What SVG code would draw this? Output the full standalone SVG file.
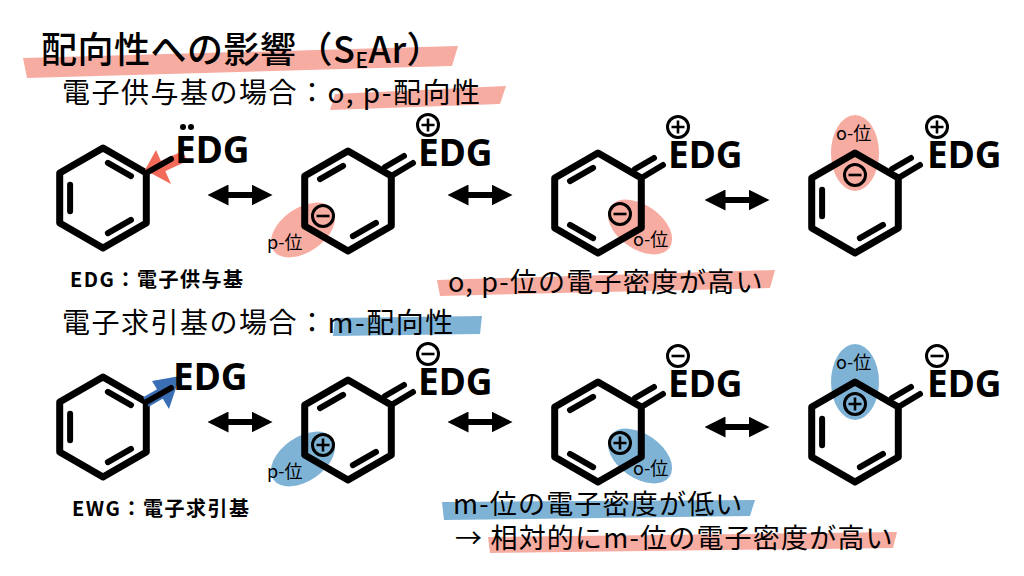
<svg xmlns="http://www.w3.org/2000/svg" width="1024" height="576" viewBox="0 0 1024 576">
<style>
.r{fill:none;stroke:#000;stroke-width:7;stroke-linejoin:round;stroke-linecap:round}
.d{stroke:#000;stroke-width:6;stroke-linecap:round}
.g{font-family:"Noto Sans","Open Sans",sans-serif;font-weight:700;font-size:37px;fill:#000}
.t{font-family:"Noto Sans CJK JP","Noto Sans",sans-serif;fill:#000}
.s{font-family:"Noto Sans CJK JP","Noto Sans",sans-serif;font-size:18px;fill:#000}
.ch{fill:none;stroke:#000;stroke-width:3}
.pk{fill:#f7aca2}
.bl{fill:#7fb3d5}
.ar{stroke:#000;stroke-width:6}
</style>
<defs>
<marker id="ah" viewBox="0 0 10 10" refX="5" refY="5" markerWidth="3.5" markerHeight="3.5" orient="auto-start-reverse"><path d="M0,0L10,5L0,10Z" fill="#000"/></marker>
<polygon id="hex" class="r" points="0,-50 43.3,-25 43.3,25 0,50 -43.3,25 -43.3,-25"/>
<g id="exo"><line class="d" x1="43.3" y1="-25" x2="65" y2="-38"/><line class="d" x1="37" y1="-34" x2="56" y2="-45"/></g>
<g id="plus"><circle class="ch" r="10.5"/><path d="M-6.5,0H6.5M0,-6.5V6.5" stroke="#000" stroke-width="2.6"/></g>
<g id="minus"><circle class="ch" r="10.5"/><path d="M-6.5,0H6.5" stroke="#000" stroke-width="2.6"/></g>
</defs>

<!-- headings -->
<polygon class="pk" points="23,58 458,46 452,66 27,78"/>
<text class="t" x="41" y="63" font-size="36" font-weight="500" letter-spacing="0.5">配向性への影響（S<tspan font-size="21" dy="5">E</tspan><tspan dy="-5">Ar）</tspan></text>
<polygon class="pk" points="335,94 506,86 500,104 330,110"/>
<text class="t" x="62" y="103" font-size="28" letter-spacing="1.5">電子供与基の場合：o, p-配向性</text>
<text class="t" x="70" y="287" font-size="20" font-weight="700" letter-spacing="1.5">EDG：電子供与基</text>
<polygon class="pk" points="437,280 775,270 770,288 440,296"/>
<text class="t" x="448" y="292" font-size="27" letter-spacing="1.2">o, p-位の電子密度が高い</text>
<polygon class="bl" points="335,318 482,316 480,334 333,336"/>
<text class="t" x="62" y="333" font-size="28" letter-spacing="1.5">電子求引基の場合：m-配向性</text>
<text class="t" x="72" y="516" font-size="20" font-weight="700" letter-spacing="1.5">EWG：電子求引基</text>
<polygon class="bl" points="442,502 755,500 750,516 444,520"/>
<text class="t" x="453" y="514" font-size="27" letter-spacing="1.2">m-位の電子密度が低い</text>
<polygon class="pk" points="488,537 897,532 893,548 490,553"/>
<text class="t" x="455" y="548" font-size="27" letter-spacing="1.2">→ 相対的にm-位の電子密度が高い</text>

<!-- row 1 -->
<g id="r1a" transform="translate(103,198)">
<use href="#hex"/>
<path class="d" d="M4.9,-35.2L28,-21.9M-32.9,13.3L-32.9,-13.3M28,21.9L4.9,35.2"/>
<path d="M82,-42L58,-31" stroke="#f26a5a" stroke-width="11"/>
<polygon points="42,-28 53,-48 68,-14" fill="#f26a5a"/>
<line class="d" x1="43.3" y1="-25" x2="68" y2="-39"/>
<text class="g" x="72" y="-35">EDG</text>
<circle cx="80" cy="-71" r="3"/><circle cx="88" cy="-71" r="3"/>
</g>
<g id="r1b" transform="translate(348,201)">
<ellipse class="pk" cx="-45" cy="29" rx="36" ry="22" transform="rotate(-35 -45 29)"/>
<use href="#hex"/>
<path class="d" d="M-28,-21.9L-4.9,-35.2M28,21.9L4.9,35.2"/>
<use href="#exo"/>
<text class="g" x="70" y="-35">EDG</text>
<use href="#plus" x="80" y="-76"/>
<use href="#minus" x="-25" y="15"/>
<text class="s" x="-81" y="48">p-位</text>
</g>
<g id="r1c" transform="translate(598,203)">
<ellipse class="pk" cx="42" cy="24" rx="36" ry="22" transform="rotate(35 42 24)"/>
<use href="#hex"/>
<path class="d" d="M-28,-21.9L-4.9,-35.2M-4.9,35.2L-28,21.9"/>
<use href="#exo"/>
<text class="g" x="70" y="-35">EDG</text>
<use href="#plus" x="80" y="-76"/>
<use href="#minus" x="22" y="11"/>
<text class="s" x="35" y="43">o-位</text>
</g>
<g id="r1d" transform="translate(855,203)">
<ellipse class="pk" cx="0" cy="-50" rx="24" ry="38"/>
<use href="#hex"/>
<path class="d" d="M-32.9,13.3L-32.9,-13.3M28,21.9L4.9,35.2"/>
<use href="#exo"/>
<text class="g" x="72" y="-35">EDG</text>
<use href="#plus" x="82" y="-76"/>
<use href="#minus" x="0" y="-28"/>
<text class="s" x="-19" y="-63">o-位</text>
</g>

<!-- row 2 -->
<g id="r2a" transform="translate(103,427)">
<use href="#hex"/>
<path class="d" d="M4.9,-35.2L28,-21.9M-32.9,13.3L-32.9,-13.3M28,21.9L4.9,35.2"/>
<path d="M43,-25L62,-36" stroke="#3a6fb5" stroke-width="11"/>
<polygon points="77,-51 49,-46 66,-18" fill="#3a6fb5"/>
<line class="d" x1="43.3" y1="-25" x2="68" y2="-39"/>
<text class="g" x="70" y="-37">EDG</text>
</g>
<g id="r2b" transform="translate(348,430)">
<ellipse class="bl" cx="-45" cy="29" rx="36" ry="22" transform="rotate(-35 -45 29)"/>
<use href="#hex"/>
<path class="d" d="M-28,-21.9L-4.9,-35.2M28,21.9L4.9,35.2"/>
<use href="#exo"/>
<text class="g" x="70" y="-35">EDG</text>
<use href="#minus" x="80" y="-76"/>
<use href="#plus" x="-25" y="15"/>
<text class="s" x="-81" y="48">p-位</text>
</g>
<g id="r2c" transform="translate(598,432)">
<ellipse class="bl" cx="42" cy="24" rx="36" ry="22" transform="rotate(35 42 24)"/>
<use href="#hex"/>
<path class="d" d="M-28,-21.9L-4.9,-35.2M-4.9,35.2L-28,21.9"/>
<use href="#exo"/>
<text class="g" x="70" y="-35">EDG</text>
<use href="#minus" x="80" y="-76"/>
<use href="#plus" x="22" y="11"/>
<text class="s" x="35" y="43">o-位</text>
</g>
<g id="r2d" transform="translate(855,432)">
<ellipse class="bl" cx="0" cy="-50" rx="24" ry="38"/>
<use href="#hex"/>
<path class="d" d="M-32.9,13.3L-32.9,-13.3M28,21.9L4.9,35.2"/>
<use href="#exo"/>
<text class="g" x="72" y="-35">EDG</text>
<use href="#minus" x="82" y="-76"/>
<use href="#plus" x="0" y="-28"/>
<text class="s" x="-19" y="-63">o-位</text>
</g>

<g id="connectors">
<line class="ar" x1="218" y1="195" x2="262" y2="195" marker-start="url(#ah)" marker-end="url(#ah)"/>
<line class="ar" x1="458" y1="195" x2="502" y2="195" marker-start="url(#ah)" marker-end="url(#ah)"/>
<line class="ar" x1="715" y1="200" x2="759" y2="200" marker-start="url(#ah)" marker-end="url(#ah)"/>
<line class="ar" x1="218" y1="422" x2="262" y2="422" marker-start="url(#ah)" marker-end="url(#ah)"/>
<line class="ar" x1="458" y1="422" x2="502" y2="422" marker-start="url(#ah)" marker-end="url(#ah)"/>
<line class="ar" x1="715" y1="427" x2="759" y2="427" marker-start="url(#ah)" marker-end="url(#ah)"/>
</g>
</svg>
